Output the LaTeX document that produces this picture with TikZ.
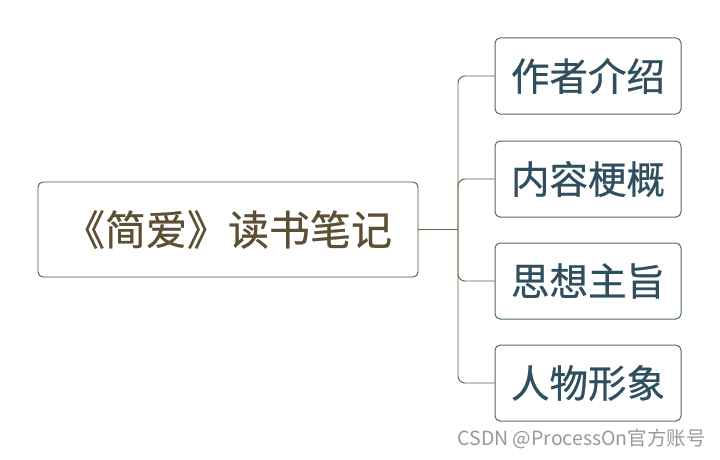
\documentclass[tikz,border=0pt]{standalone}
\usepackage{fontspec}
\setmainfont{Noto Sans CJK SC}
\newfontfamily\cjk[FakeBold=0.6]{Noto Sans CJK SC}
\newfontfamily\cjkw{Noto Sans CJK SC}
\begin{document}
\begin{tikzpicture}[x=1pt,y=1pt,
  rootbox/.style={draw=rootc, line width=0.9pt, rounded corners=5pt, minimum width=380pt, minimum height=95pt, text=rootc, font=\cjk\fontsize{41}{45}\selectfont, inner sep=0pt},
  childbox/.style={draw=childb, line width=1pt, rounded corners=5pt, minimum width=186pt, minimum height=76pt, text=childt, font=\cjk\fontsize{38.5}{42}\selectfont, inner sep=0pt},
  conn/.style={draw=connc, line width=0.9pt, rounded corners=7pt}]
\definecolor{rootc}{HTML}{5C4F33}
\definecolor{childb}{HTML}{4A6878}
\definecolor{childt}{HTML}{2F4F5F}
\definecolor{connc}{HTML}{6E5E3E}
\definecolor{wm}{HTML}{999999}
\useasboundingbox (0,0) rectangle (720,-460);
\fill[white] (0,0) rectangle (720,-460);
\node[rootbox] (root) at (228,-229.5) {《简爱》读书笔记};
\node[childbox] (c1) at (588,-76) {作者介绍};
\node[childbox] (c2) at (588,-179) {内容梗概};
\node[childbox] (c3) at (588,-281) {思想主旨};
\node[childbox] (c4) at (588,-383) {人物形象};
\coordinate (j) at (458,-229.5);
\draw[conn] (root.east) -- (j);
\foreach \c in {c1,c2,c3,c4} { \draw[conn] (j) |- (\c.west); }
\node[anchor=east, text=wm, font=\cjkw\fontsize{19.5}{22}\selectfont, inner sep=0pt] (wmk) at (706,-439) {CSDN @ProcessOn官方账号};
\end{tikzpicture}
\end{document}
